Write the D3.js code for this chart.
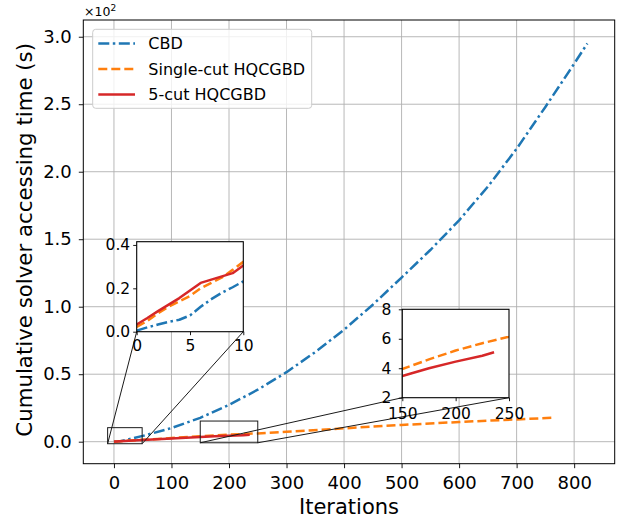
<!DOCTYPE html>
<html>
<head>
<meta charset="utf-8">
<script src="https://cdn.jsdelivr.net/npm/d3@7"></script>
<style>
  html, body { margin: 0; padding: 0; background: #fff; }
  svg { display: block; font-family: "DejaVu Sans", sans-serif; }
</style>
</head>
<body>
<svg id="chart" width="625" height="521"></svg>
<script>
// ---------------- data ----------------
const cbdIter = [0,1,2,3,4,5,6,7,8,9,10,50,100,150,200,250,300,350,400,450,500,550,600,650,700,750,800,823];
const cbdTime = [0.005,0.02,0.033,0.045,0.055,0.075,0.115,0.15,0.18,0.205,0.232,4.3,10.1,17.7,27.3,38.5,51.5,66.4,83,101.5,121.6,142,164,189,217,248,280,295];

const singleIter = [0,1,2,3,4,5,6,7,8,9,10,50,100,150,175,200,225,250,300,400,500,600,700,767];
const singleTime = [0.022,0.05,0.085,0.115,0.14,0.165,0.2,0.225,0.25,0.285,0.322,1.4,2.7,3.95,4.6,5.2,5.7,6.14,7.3,9.9,12.4,14.6,16.5,17.8];

const fiveIter = [0,1,2,3,4,5,6,7,8,9,10,50,100,150,175,200,225,236];
const fiveTime = [0.033,0.063,0.095,0.125,0.155,0.19,0.225,0.24,0.255,0.27,0.305,1.3,2.4,3.47,4.0,4.45,4.85,5.08];

const seriesNames = ["CBD", "Single-cut HQCGBD", "5-cut HQCGBD"];
const xTicks = [0,100,200,300,400,500,600,700,800];
const yTicks = [0,50,100,150,200,250,300];   // seconds, shown as ×10^2
const inset1XTicks = [0,5,10];
const inset1YTicks = [0,0.2,0.4];
const inset2XTicks = [150,200,250];
const inset2YTicks = [2,4,6,8];
// zoom boxes drawn on main axes (iterations, seconds)
const zoomBox1X = [-11, 49], zoomBox1Y = [-1.5, 10.4];
const zoomBox2X = [150, 250], zoomBox2Y = [-0.8, 15.3];

// ---------------- styles ----------------
const colors = ["#1f77b4", "#ff7f0e", "#d62728"];
const dashes = ["11,3.5,2.5,3.5", "9,4", null];
const LW = 2.5;
const FONT = "DejaVu Sans, sans-serif";

const svg = d3.select("#chart");
const series = [
  {name: seriesNames[0], x: cbdIter, y: cbdTime},
  {name: seriesNames[1], x: singleIter, y: singleTime},
  {name: seriesNames[2], x: fiveIter, y: fiveTime}
].map((s, i) => ({...s, color: colors[i], dash: dashes[i],
  pts: s.x.map((v, j) => [v, s.y[j]])}));

// main scales
const L = 83.3, R = 614.7, T = 20, B = 463.7;
const x = d3.scaleLinear().domain([-53.3, 870.5]).range([L, R]);
const y = d3.scaleLinear().domain([-16.3, 312.4]).range([B, T]);

// grid
const grid = svg.append("g");
grid.selectAll(".gx").data(xTicks).join("line")
  .attr("x1", d => x(d)).attr("x2", d => x(d)).attr("y1", T).attr("y2", B)
  .attr("stroke", "#b0b0b0").attr("stroke-width", 0.9);
grid.selectAll(".gy").data(yTicks).join("line")
  .attr("y1", d => y(d)).attr("y2", d => y(d)).attr("x1", L).attr("x2", R)
  .attr("stroke", "#b0b0b0").attr("stroke-width", 0.9);

// main clip
svg.append("clipPath").attr("id", "mainClip").append("rect")
  .attr("x", L).attr("y", T).attr("width", R - L).attr("height", B - T);

const mainLine = d3.line().x(d => x(d[0])).y(d => y(d[1]));
const mainG = svg.append("g").attr("clip-path", "url(#mainClip)");
series.forEach(s => {
  mainG.append("path").attr("d", mainLine(s.pts))
    .attr("fill", "none").attr("stroke", s.color).attr("stroke-width", LW)
    .attr("stroke-dasharray", s.dash).attr("stroke-linejoin", "round");
});

// axes
function styleAxis(g, fs) {
  g.selectAll("path.domain").remove();
  g.selectAll(".tick line").attr("stroke", "#000").attr("stroke-width", 0.9);
  g.selectAll(".tick text").attr("fill", "#000").attr("font-size", fs).attr("font-family", FONT);
}
const xAxis = svg.append("g").attr("transform", `translate(0,${B})`)
  .call(d3.axisBottom(x).tickValues(xTicks).tickSize(4.5).tickPadding(8.5).tickSizeOuter(0));
styleAxis(xAxis, 18);
const yAxis = svg.append("g").attr("transform", `translate(${L},0)`)
  .call(d3.axisLeft(y).tickValues(yTicks).tickFormat(d => (d / 100).toFixed(1)).tickSize(4.5).tickPadding(7).tickSizeOuter(0));
styleAxis(yAxis, 18);

// frame
svg.append("rect").attr("x", L).attr("y", T).attr("width", R - L).attr("height", B - T)
  .attr("fill", "none").attr("stroke", "#000").attr("stroke-width", 1);

// offset text
const off = svg.append("text").attr("x", 84).attr("y", 15.5).attr("font-size", 12.5).attr("font-family", FONT).attr("fill", "#000");
off.append("tspan").text("×10");
off.append("tspan").attr("font-size", 9).attr("dy", -5).text("2");

// axis labels
svg.append("text").attr("x", (L + R) / 2).attr("y", 514).attr("text-anchor", "middle")
  .attr("font-size", 21).attr("font-family", FONT).text("Iterations");
svg.append("text").attr("transform", `translate(32,${(T + B) / 2 - 2}) rotate(-90)`).attr("text-anchor", "middle")
  .attr("font-size", 21.3).attr("font-family", FONT).text("Cumulative solver accessing time (s)");

// legend
const lg = svg.append("g");
lg.append("rect").attr("x", 92.7).attr("y", 29.3).attr("width", 219).attr("height", 79).attr("rx", 3)
  .attr("fill", "#fff").attr("fill-opacity", 0.8).attr("stroke", "#cccccc").attr("stroke-width", 1);
series.forEach((s, i) => {
  const cy = 43.5 + i * 25.5;
  lg.append("line").attr("x1", 98.3).attr("x2", 135).attr("y1", cy).attr("y2", cy)
    .attr("stroke", s.color).attr("stroke-width", LW).attr("stroke-dasharray", s.dash);
  lg.append("text").attr("x", 148.3).attr("y", cy).attr("dy", "0.36em")
    .attr("font-size", 16).attr("font-family", FONT).text(s.name);
});

// insets
function drawInset(id, xs, ys, xt, yt, xPad, yPad, boxX, boxY, yFmt) {
  const [x0, x1] = xs.range(), [y0, y1] = ys.range(); // y0 bottom, y1 top
  // zoom rectangle on main axes
  const bx0 = x(boxX[0]), bx1 = x(boxX[1]), by0 = y(boxY[0]), by1 = y(boxY[1]);
  svg.append("rect").attr("x", bx0).attr("y", by1).attr("width", bx1 - bx0).attr("height", by0 - by1)
    .attr("fill", "none").attr("stroke", "#1a1a1a").attr("stroke-width", 1);
  // connectors: bottom-left -> bottom-left, bottom-right -> bottom-right
  svg.append("line").attr("x1", bx0).attr("y1", by0).attr("x2", x0).attr("y2", y0)
    .attr("stroke", "#1a1a1a").attr("stroke-width", 1);
  svg.append("line").attr("x1", bx1).attr("y1", by0).attr("x2", x1).attr("y2", y0)
    .attr("stroke", "#1a1a1a").attr("stroke-width", 1);

  const g = svg.append("g");
  g.append("rect").attr("x", x0).attr("y", y1).attr("width", x1 - x0).attr("height", y0 - y1).attr("fill", "#fff");
  g.append("clipPath").attr("id", id).append("rect")
    .attr("x", x0).attr("y", y1).attr("width", x1 - x0).attr("height", y0 - y1);
  const ln = d3.line().x(d => xs(d[0])).y(d => ys(d[1]));
  const lg2 = g.append("g").attr("clip-path", `url(#${id})`);
  series.forEach(s => {
    lg2.append("path").attr("d", ln(s.pts)).attr("fill", "none").attr("stroke", s.color)
      .attr("stroke-width", LW).attr("stroke-dasharray", s.dash).attr("stroke-linejoin", "round");
  });
  const ax = g.append("g").attr("transform", `translate(0,${y0})`)
    .call(d3.axisBottom(xs).tickValues(xt).tickSize(3.5).tickPadding(xPad).tickSizeOuter(0));
  styleAxis(ax, 15.5);
  const ay = g.append("g").attr("transform", `translate(${x0},0)`)
    .call(d3.axisLeft(ys).tickValues(yt).tickFormat(yFmt).tickSize(3.5).tickPadding(yPad).tickSizeOuter(0));
  styleAxis(ay, 15.5);
  g.append("rect").attr("x", x0).attr("y", y1).attr("width", x1 - x0).attr("height", y0 - y1)
    .attr("fill", "none").attr("stroke", "#000").attr("stroke-width", 1.1);
}

const ix1 = d3.scaleLinear().domain([0, 10]).range([136.7, 243.3]);
const iy1 = d3.scaleLinear().domain([0, 0.415]).range([331.7, 241.7]);
drawInset("clipIn1", ix1, iy1, inset1XTicks, inset1YTicks, 5, 3, zoomBox1X, zoomBox1Y, d => d.toFixed(1));

const ix2 = d3.scaleLinear().domain([150, 250]).range([402.3, 509]);
const iy2 = d3.scaleLinear().domain([2, 8]).range([397.7, 309.3]);
drawInset("clipIn2", ix2, iy2, inset2XTicks, inset2YTicks, 6.5, 7.5, zoomBox2X, zoomBox2Y, d => String(d));
</script>
</body>
</html>
